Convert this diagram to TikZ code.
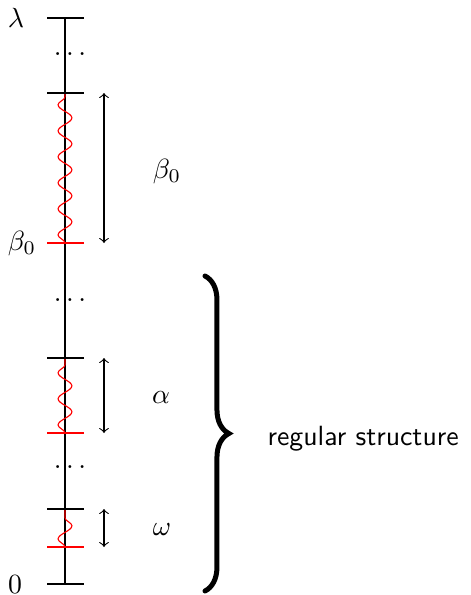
\documentclass[tikz,border=0pt]{standalone}
\usetikzlibrary{decorations.pathmorphing,decorations.pathreplacing}
\begin{document}
\begin{tikzpicture}[x=0.36pt,y=-0.36pt,
  axisline/.style={line width=0.4pt},
  blacktick/.style={line width=0.4pt},
  redtick/.style={red, line width=0.4pt},
  wave/.style={red, line width=0.4pt, decorate,
    decoration={snake, amplitude=2.5pt, segment length=9.36pt}},
  span/.style={<->, line width=0.4pt},
  lbl/.style={inner sep=0pt, anchor=base},
  bracestyle/.style={line width=1.8pt, line cap=round, decorate,
    decoration={brace, amplitude=8.6pt}},
  ]
\useasboundingbox (0,0) rectangle (470,595);

% axis
\coordinate (top) at (65,18);
\coordinate (bot) at (65,584);
\draw[axisline] (top) -- (bot);

% tick levels
\foreach \n/\y in {lam/18, k1/93, b0/243, k2/358, k3/433, k4/509, k5/547, zero/584}{
  \coordinate (\n-l) at (47,\y);
  \coordinate (\n-c) at (65,\y);
  \coordinate (\n-r) at (84,\y);
  \coordinate (\n-a) at (104,\y);
}

% waves (bottom to top)
\draw[wave] (b0-c) -- (k1-c);
\draw[wave] (k3-c) -- (k2-c);
\draw[wave] (k5-c) -- (k4-c);

% ticks
\draw[blacktick] (lam-l) -- (lam-r);
\draw[blacktick] (k1-l) -- (k1-r);
\draw[redtick] (b0-l) -- (b0-r);
\draw[blacktick] (k2-l) -- (k2-r);
\draw[redtick] (k3-l) -- (k3-r);
\draw[blacktick] (k4-l) -- (k4-r);
\draw[redtick] (k5-l) -- (k5-r);
\draw[blacktick] (zero-l) -- (zero-r);

% dots
\node[inner sep=0pt] (d1) at (70,54) {$\dots$};
\node[inner sep=0pt] (d2) at (70,300) {$\dots$};
\node[inner sep=0pt] (d3) at (70,467) {$\dots$};

% span arrows
\draw[span] (k1-a) -- (b0-a);
\draw[span] (k2-a) -- (k3-a);
\draw[span] (k4-a) -- (k5-a);

% left labels
\node[lbl] (llam) at (16,28) {$\lambda$};
\node[lbl] (lb0) at (22,250) {$\beta_0$};
\node[lbl] (lzero) at (15,593) {$0$};

% right labels
\node[lbl] (rb0) at (167,178) {$\beta_0$};
\node[lbl] (ra) at (161,403) {$\alpha$};
\node[lbl] (rw) at (162,535) {$\omega$};

% brace
\coordinate (br-top) at (205,276);
\coordinate (br-bot) at (205,591);
\draw[bracestyle] (br-top) -- (br-bot);
\node[inner sep=0pt, anchor=base west] (reg) at (267,445) {\sffamily regular structure};
\end{tikzpicture}
\end{document}
